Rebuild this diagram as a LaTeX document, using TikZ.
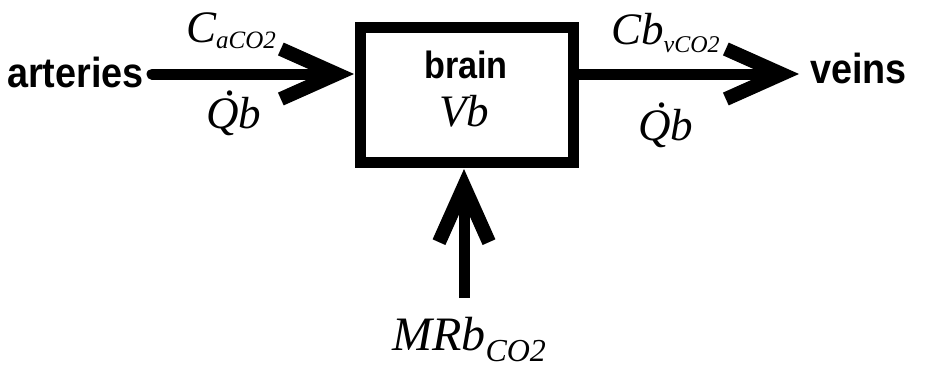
\documentclass[tikz,border=0pt]{standalone}
\usepackage{fontspec}
\usetikzlibrary{arrows.meta}
\newfontfamily\lsans{Liberation Sans}[FakeStretch=0.9]
\newfontfamily\lserif{Liberation Serif}
\newcommand{\subsz}{\fontsize{25}{25}\selectfont}
\newcommand{\qdot}{\makebox[0pt][l]{\hspace{0.42em}\raisebox{0.72em}[0pt][0pt]{.}}Q}
\begin{document}
\begin{tikzpicture}[x=1pt,y=-1pt,
  sanslab/.style={font=\lsans\bfseries\fontsize{42}{42}\selectfont, inner sep=0pt, anchor=base west},
  serlab/.style={font=\lserif\itshape\fontsize{45}{45}\selectfont, inner sep=0pt, anchor=base west},
  flow/.style={line width=11pt, -{Straight Barb[length=56pt,width=50pt,line width=14pt]}},
  box/.style={draw, line width=11pt, minimum width=213pt, minimum height=135pt, inner sep=0pt}
  ]
\useasboundingbox (0,0) rectangle (927,370);
\node[box] (brain) at (467,95) {};
\node[sanslab] (art) at (7,87) {arteries};
\node[sanslab] (veins) at (810,83) {veins};
\node[sanslab, anchor=base, font=\lsans\bfseries\fontsize{38}{38}\selectfont] (bl) at (466,78) {brain};
\node[serlab, anchor=base] (vb) at (464,126) {Vb};
\node[serlab] (ca) at (186,42) {C\raisebox{-6pt}[0pt][0pt]{\subsz aCO2}};
\node[serlab] (qa) at (206,128) {\qdot b};
\node[serlab] (cb) at (611,44) {Cb\raisebox{-8pt}[0pt][0pt]{\fontsize{24}{24}\selectfont vCO2}};
\node[serlab] (qb) at (638,140) {\qdot b};
\node[serlab, font=\lserif\itshape\fontsize{48}{48}\selectfont] (mr) at (392,350) {MRb\raisebox{-11pt}[0pt][0pt]{\fontsize{32}{32}\selectfont CO2}};
\coordinate (artS) at (152,74);
\coordinate (inL) at (354,74);
\coordinate (outR) at (578,74);
\coordinate (tipR) at (799,74);
\coordinate (mrS) at (464,298);
\coordinate (mrT) at (464,169);
\draw[flow, line cap=round] (artS) -- (inL);
\draw[flow] (outR) -- (tipR);
\draw[flow] (mrS) -- (mrT);
\end{tikzpicture}
\end{document}
